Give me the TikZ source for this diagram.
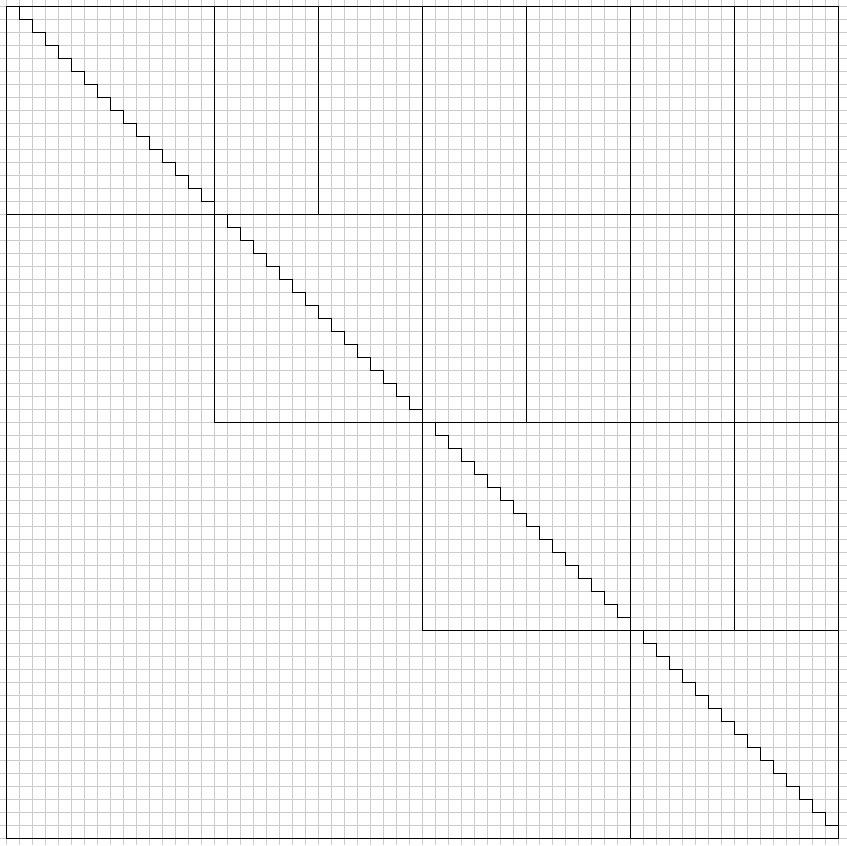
\documentclass[tikz,border=0pt]{standalone}
\usepackage{tikz}

\begin{document}
\begin{tikzpicture}[x=0.3cm,y=-0.3cm]
		\tikzset{gridline/.style={gray!40, line width=0.6pt}, blockline/.style={black, line width=0.7pt}}
		\useasboundingbox (-0.5,-0.5) rectangle (64.65,64.5);
		\foreach \k in {0,...,64} {
			\draw[gridline] (\k,-0.5) -- (\k,64.5);
			\draw[gridline] (-0.5,\k) -- (64.65,\k);
		}
		\draw[blockline] (0,0) rectangle (64,64);
		\draw[blockline] (0,16) -- (64,16);
		\draw[blockline] (16,32) -- (64,32);
		\draw[blockline] (32,48) -- (64,48);
		\draw[blockline] (16,0) -- (16,32);
		\draw[blockline] (24,0) -- (24,16);
		\draw[blockline] (32,0) -- (32,48);
		\draw[blockline] (40,0) -- (40,32);
		\draw[blockline] (48,0) -- (48,64);
		\draw[blockline] (56,0) -- (56,48);
		\draw[blockline] (0,0) \foreach \i in {1,...,64} { -| (\i,\i) };
	\end{tikzpicture}
\end{document}
